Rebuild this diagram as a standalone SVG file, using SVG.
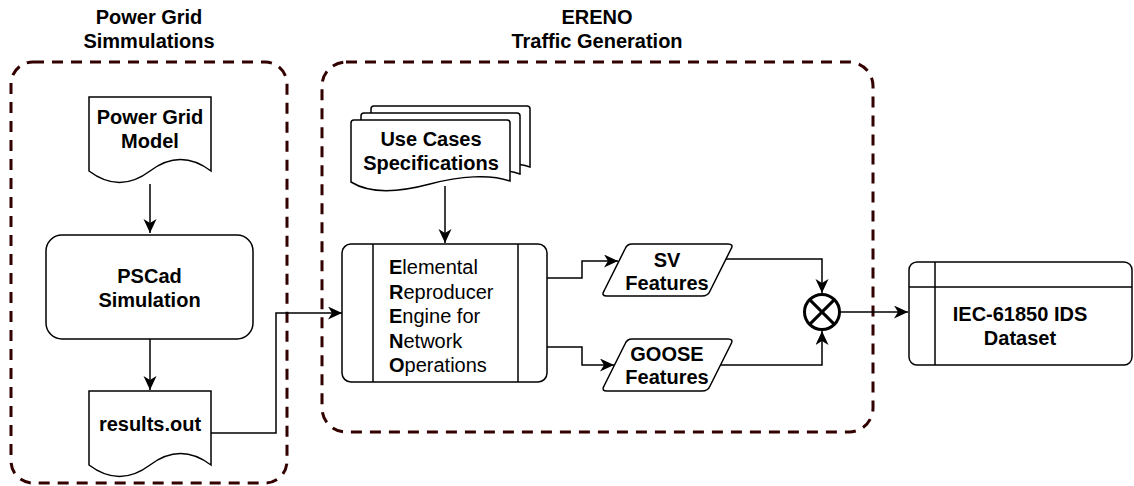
<svg xmlns="http://www.w3.org/2000/svg" width="1134" height="486" viewBox="0 0 1134 486">
<defs>
<style>
.t{font-family:"Liberation Sans",Arial,sans-serif;font-size:20px;fill:#000;}
.b{font-weight:bold;}
.m{text-anchor:middle;}
.n{fill:#fff;stroke:#000;stroke-width:1.5;}
.c{fill:none;stroke:#000;stroke-width:1.5;}
.g{fill:none;stroke:#330000;stroke-width:3;stroke-dasharray:11 8;}
</style>
<marker id="ah" markerUnits="userSpaceOnUse" markerWidth="15" markerHeight="14" refX="14" refY="6.5" orient="auto">
<path d="M0,0 L14,6.5 L0,13 L4,6.5 Z" fill="#000"/>
</marker>
</defs>
<rect width="1134" height="486" fill="#fff"/>

<g id="grp-powergrid">
<rect class="g" x="11" y="62" width="276" height="421" rx="22"/>
<text class="t b m" x="149" y="24">Power Grid</text>
<text class="t b m" x="149" y="48">Simmulations</text>
</g>

<g id="grp-ereno">
<rect class="g" x="322" y="62" width="551" height="370" rx="24"/>
<text class="t b m" x="597" y="24">ERENO</text>
<text class="t b m" x="597" y="48">Traffic Generation</text>
</g>

<g id="connectors">
<line class="c" x1="150" y1="184" x2="150" y2="233" marker-end="url(#ah)"/>
<line class="c" x1="150" y1="339" x2="150" y2="390" marker-end="url(#ah)"/>
<polyline class="c" points="211,433 276,433 276,313 342,313" marker-end="url(#ah)"/>
<line class="c" x1="445" y1="186" x2="445" y2="243" marker-end="url(#ah)"/>
<polyline class="c" points="547,278 582,278 582,261 618,261" marker-end="url(#ah)"/>
<polyline class="c" points="547,347 582,347 582,365 614,365" marker-end="url(#ah)"/>
<polyline class="c" points="726,259 822,259 822,293" marker-end="url(#ah)"/>
<polyline class="c" points="721,365 822,365 822,331" marker-end="url(#ah)"/>
<line class="c" x1="840" y1="312" x2="908" y2="312" marker-end="url(#ah)"/>
</g>

<g id="power-grid-model">
<path class="n" d="M89,97 L211,97 L211,171 Q180.5,148 150,171 Q119.5,194 89,171 Z"/>
<text class="t b m" x="150" y="124">Power Grid</text>
<text class="t b m" x="150" y="148">Model</text>
</g>

<g id="pscad-simulation">
<rect class="n" x="46" y="235" width="207" height="104" rx="16"/>
<text class="t b m" x="149.5" y="283">PSCad</text>
<text class="t b m" x="149.5" y="307">Simulation</text>
</g>

<g id="results-out">
<path class="n" d="M89,391 L211,391 L211,465 Q180.5,442 150,465 Q119.5,488 89,465 Z"/>
<text class="t b m" x="150" y="431">results.out</text>
</g>

<g id="use-cases">
<path class="n" d="M371,109 Q371,106 374,106 L527,106 Q530,106 530,109 L530,167 C510,160 480,162 450,170 C420,178 390,180 371,168 Z"/>
<path class="n" d="M361,116 Q361,113 364,113 L517,113 Q520,113 520,116 L520,174 C500,167 470,169 440,177 C410,185 380,187 361,175 Z"/>
<path class="n" d="M351,123 Q351,120 354,120 L507,120 Q510,120 510,123 L510,181 C490,174 460,176 430,184 C400,192 370,194 351,182 Z"/>
<text class="t b m" x="431" y="146">Use Cases</text>
<text class="t b m" x="431" y="170">Specifications</text>
</g>

<g id="ereno-engine">
<rect class="n" x="342" y="244" width="205" height="138" rx="9"/>
<line class="c" x1="373" y1="244" x2="373" y2="382"/>
<line class="c" x1="518" y1="244" x2="518" y2="382"/>
<text class="t" x="389" y="274"><tspan class="b">E</tspan>lemental</text>
<text class="t" x="389" y="298.5"><tspan class="b">R</tspan>eproducer</text>
<text class="t" x="389" y="323"><tspan class="b">E</tspan>ngine for</text>
<text class="t" x="389" y="347.5"><tspan class="b">N</tspan>etwork</text>
<text class="t" x="389" y="372"><tspan class="b">O</tspan>perations</text>
</g>

<g id="sv-features">
<path class="n" stroke-linejoin="round" d="M632,244 L728,244 Q734,244 731,249 L710,291 Q708,296 702,296 L607,296 Q601,296 604,291 L625,249 Q627,244 632,244 Z"/>
<text class="t b m" x="667" y="267">SV</text>
<text class="t b m" x="667" y="290">Features</text>
</g>

<g id="goose-features">
<path class="n" stroke-linejoin="round" d="M632,339 L728,339 Q734,339 731,344 L710,386 Q708,391 702,391 L607,391 Q601,391 604,386 L625,344 Q627,339 632,339 Z"/>
<text class="t b m" x="667" y="361">GOOSE</text>
<text class="t b m" x="667" y="384">Features</text>
</g>

<g id="sum-junction">
<circle cx="822" cy="312" r="17.5" fill="#fff" stroke="#000" stroke-width="3"/>
<line x1="809.6" y1="299.6" x2="834.4" y2="324.4" stroke="#000" stroke-width="3"/>
<line x1="834.4" y1="299.6" x2="809.6" y2="324.4" stroke="#000" stroke-width="3"/>
</g>

<g id="ids-dataset">
<rect class="n" x="909" y="262" width="223" height="103" rx="8"/>
<line class="c" x1="935" y1="262" x2="935" y2="365"/>
<line class="c" x1="909" y1="287" x2="1132" y2="287"/>
<text class="t b m" x="1020" y="321">IEC-61850 IDS</text>
<text class="t b m" x="1020" y="345">Dataset</text>
</g>
</svg>
